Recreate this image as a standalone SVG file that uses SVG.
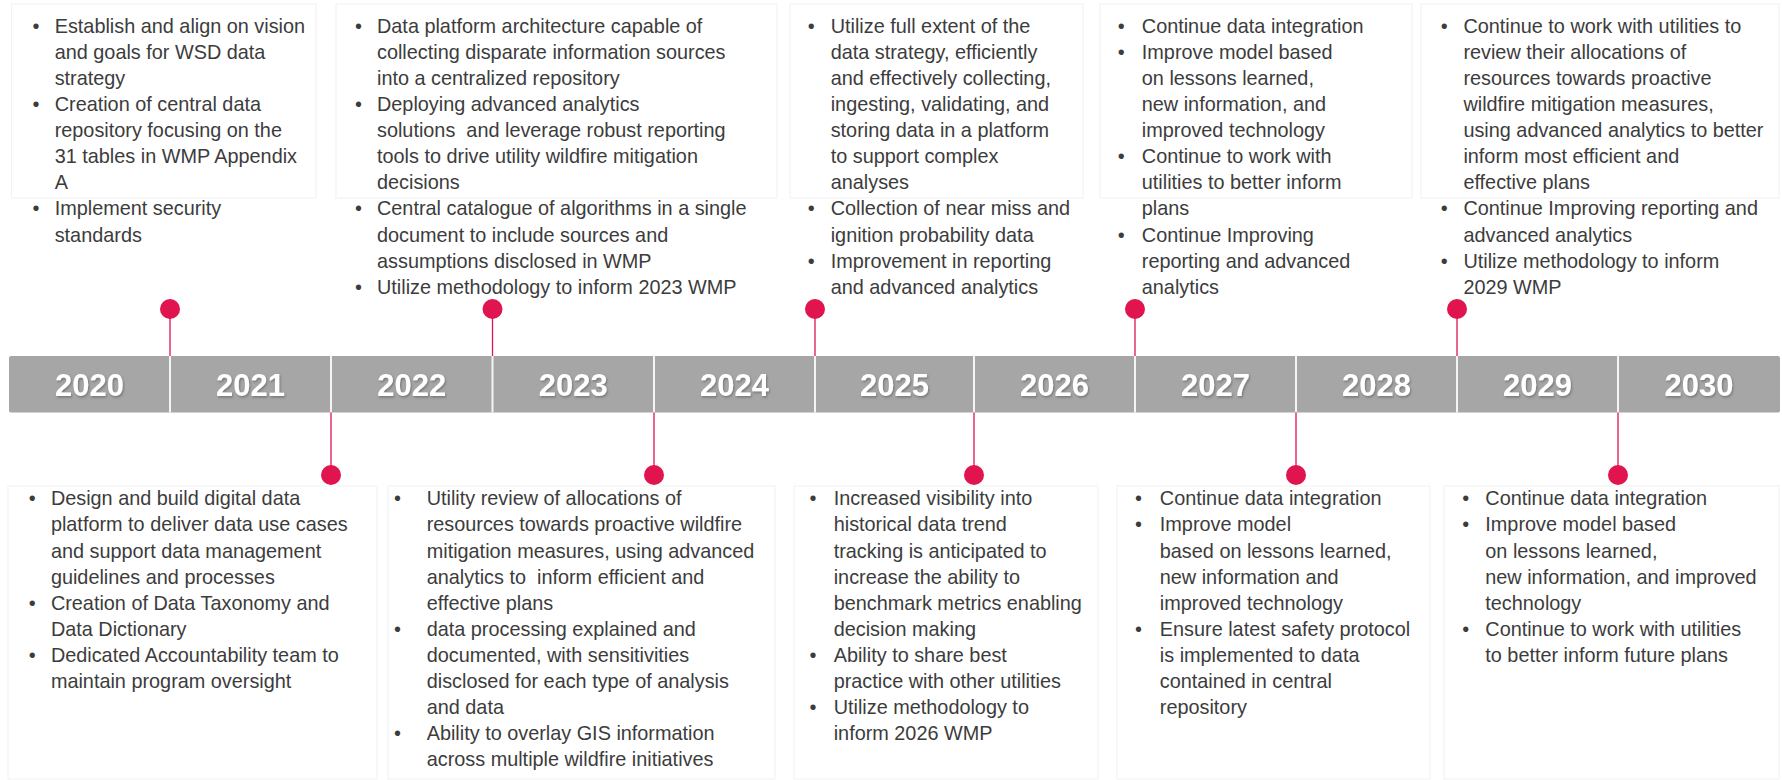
<svg xmlns="http://www.w3.org/2000/svg" width="1782" height="780" viewBox="0 0 1782 780">
<defs>
<filter id="sh" x="-20%" y="-20%" width="140%" height="140%"><feDropShadow dx="1" dy="1.5" stdDeviation="1" flood-color="#555" flood-opacity="0.6"/></filter>
<style>
.t{font-family:"Liberation Sans",Arial,sans-serif;font-size:19.85px;fill:#3c3c3c;white-space:pre}
.yr{font-family:"Liberation Sans",Arial,sans-serif;font-size:31px;font-weight:bold;fill:#fff;text-anchor:middle}
.box{fill:none;stroke:#f3f3f3;stroke-width:1.2}
.dot{fill:#e0144f}
.ln{stroke:#e0144f;stroke-width:1.3;fill:none}
.dv{stroke:#f4f4f4;stroke-width:2}
</style>
</defs>
<rect width="1782" height="780" fill="#ffffff"/>

<g id="timeline-bar">
<rect x="9" y="356" width="1771" height="56.5" rx="2" fill="#a6a6a6"/>
<g class="dv">
<line x1="170" y1="356" x2="170" y2="412.5"/>
<line x1="331" y1="356" x2="331" y2="412.5"/>
<line x1="492.5" y1="356" x2="492.5" y2="412.5"/>
<line x1="654" y1="356" x2="654" y2="412.5"/>
<line x1="815" y1="356" x2="815" y2="412.5"/>
<line x1="974" y1="356" x2="974" y2="412.5"/>
<line x1="1135" y1="356" x2="1135" y2="412.5"/>
<line x1="1296" y1="356" x2="1296" y2="412.5"/>
<line x1="1457" y1="356" x2="1457" y2="412.5"/>
<line x1="1618" y1="356" x2="1618" y2="412.5"/>
</g>
<g filter="url(#sh)">
<text class="yr" x="89.5" y="396">2020</text>
<text class="yr" x="250.5" y="396">2021</text>
<text class="yr" x="411.8" y="396">2022</text>
<text class="yr" x="573.3" y="396">2023</text>
<text class="yr" x="734.5" y="396">2024</text>
<text class="yr" x="894.5" y="396">2025</text>
<text class="yr" x="1054.5" y="396">2026</text>
<text class="yr" x="1215.5" y="396">2027</text>
<text class="yr" x="1376.5" y="396">2028</text>
<text class="yr" x="1537.5" y="396">2029</text>
<text class="yr" x="1699" y="396">2030</text>
</g>
</g>

<g id="connectors">
<line class="ln" x1="170" y1="309" x2="170" y2="356"/>
<line class="ln" x1="492.5" y1="309" x2="492.5" y2="356"/>
<line class="ln" x1="815" y1="309" x2="815" y2="356"/>
<line class="ln" x1="1135" y1="309" x2="1135" y2="356"/>
<line class="ln" x1="1457" y1="309" x2="1457" y2="356"/>
<line class="ln" x1="331" y1="412.5" x2="331" y2="475"/>
<line class="ln" x1="654" y1="412.5" x2="654" y2="475"/>
<line class="ln" x1="974" y1="412.5" x2="974" y2="475"/>
<line class="ln" x1="1296" y1="412.5" x2="1296" y2="475"/>
<line class="ln" x1="1618" y1="412.5" x2="1618" y2="475"/>
</g>

<g id="m2020">
<rect class="box" x="11.5" y="4" width="304.5" height="194"/>
<circle class="dot" cx="170" cy="309" r="10"/>
<text class="t">
<tspan x="32.5" y="32.7">•</tspan><tspan x="54.7" y="32.7">Establish and align on vision</tspan>
<tspan x="54.7" y="58.8">and goals for WSD data</tspan>
<tspan x="54.7" y="84.9">strategy</tspan>
<tspan x="32.5" y="111">•</tspan><tspan x="54.7" y="111">Creation of central data</tspan>
<tspan x="54.7" y="137.1">repository focusing on the</tspan>
<tspan x="54.7" y="163.2">31 tables in WMP Appendix</tspan>
<tspan x="54.7" y="189.3">A</tspan>
<tspan x="32.5" y="215.4">•</tspan><tspan x="54.7" y="215.4">Implement security</tspan>
<tspan x="54.7" y="241.5">standards</tspan>
</text>
</g>

<g id="m2021">
<rect class="box" x="8" y="486" width="369" height="293"/>
<circle class="dot" cx="331" cy="475" r="10"/>
<text class="t">
<tspan x="28.7" y="505.3">•</tspan><tspan x="50.9" y="505.3">Design and build digital data</tspan>
<tspan x="50.9" y="531.4">platform to deliver data use cases</tspan>
<tspan x="50.9" y="557.5">and support data management</tspan>
<tspan x="50.9" y="583.6">guidelines and processes</tspan>
<tspan x="28.7" y="609.7">•</tspan><tspan x="50.9" y="609.7">Creation of Data Taxonomy and</tspan>
<tspan x="50.9" y="635.8">Data Dictionary</tspan>
<tspan x="28.7" y="661.9">•</tspan><tspan x="50.9" y="661.9">Dedicated Accountability team to</tspan>
<tspan x="50.9" y="688">maintain program oversight</tspan>
</text>
</g>

<g id="m2022">
<rect class="box" x="336" y="4" width="441" height="194"/>
<circle class="dot" cx="492.5" cy="309" r="10"/>
<text class="t">
<tspan x="355" y="32.7">•</tspan><tspan x="377" y="32.7">Data platform architecture capable of</tspan>
<tspan x="377" y="58.8">collecting disparate information sources</tspan>
<tspan x="377" y="84.9">into a centralized repository</tspan>
<tspan x="355" y="111">•</tspan><tspan x="377" y="111">Deploying advanced analytics</tspan>
<tspan x="377" y="137.1">solutions  and leverage robust reporting</tspan>
<tspan x="377" y="163.2">tools to drive utility wildfire mitigation</tspan>
<tspan x="377" y="189.3">decisions</tspan>
<tspan x="355" y="215.4">•</tspan><tspan x="377" y="215.4">Central catalogue of algorithms in a single</tspan>
<tspan x="377" y="241.5">document to include sources and</tspan>
<tspan x="377" y="267.6">assumptions disclosed in WMP</tspan>
<tspan x="355" y="293.7">•</tspan><tspan x="377" y="293.7">Utilize methodology to inform 2023 WMP</tspan>
</text>
</g>

<g id="m2023">
<rect class="box" x="388" y="486" width="387" height="293"/>
<circle class="dot" cx="654" cy="475" r="10"/>
<text class="t">
<tspan x="394" y="505.3">•</tspan><tspan x="426.7" y="505.3">Utility review of allocations of</tspan>
<tspan x="426.7" y="531.4">resources towards proactive wildfire</tspan>
<tspan x="426.7" y="557.5">mitigation measures, using advanced</tspan>
<tspan x="426.7" y="583.6">analytics to  inform efficient and</tspan>
<tspan x="426.7" y="609.7">effective plans</tspan>
<tspan x="394" y="635.8">•</tspan><tspan x="426.7" y="635.8">data processing explained and</tspan>
<tspan x="426.7" y="661.9">documented, with sensitivities</tspan>
<tspan x="426.7" y="688">disclosed for each type of analysis</tspan>
<tspan x="426.7" y="714.1">and data</tspan>
<tspan x="394" y="740.2">•</tspan><tspan x="426.7" y="740.2">Ability to overlay GIS information</tspan>
<tspan x="426.7" y="766.3">across multiple wildfire initiatives</tspan>
</text>
</g>

<g id="m2024">
<rect class="box" x="790" y="4" width="293" height="194"/>
<circle class="dot" cx="815" cy="309" r="10"/>
<text class="t">
<tspan x="807.7" y="32.7">•</tspan><tspan x="830.7" y="32.7">Utilize full extent of the</tspan>
<tspan x="830.7" y="58.8">data strategy, efficiently</tspan>
<tspan x="830.7" y="84.9">and effectively collecting,</tspan>
<tspan x="830.7" y="111">ingesting, validating, and</tspan>
<tspan x="830.7" y="137.1">storing data in a platform</tspan>
<tspan x="830.7" y="163.2">to support complex</tspan>
<tspan x="830.7" y="189.3">analyses</tspan>
<tspan x="807.7" y="215.4">•</tspan><tspan x="830.7" y="215.4">Collection of near miss and</tspan>
<tspan x="830.7" y="241.5">ignition probability data</tspan>
<tspan x="807.7" y="267.6">•</tspan><tspan x="830.7" y="267.6">Improvement in reporting</tspan>
<tspan x="830.7" y="293.7">and advanced analytics</tspan>
</text>
</g>

<g id="m2025">
<rect class="box" x="794" y="486" width="304" height="293"/>
<circle class="dot" cx="974" cy="475" r="10"/>
<text class="t">
<tspan x="809.6" y="505.3">•</tspan><tspan x="833.7" y="505.3">Increased visibility into</tspan>
<tspan x="833.7" y="531.4">historical data trend</tspan>
<tspan x="833.7" y="557.5">tracking is anticipated to</tspan>
<tspan x="833.7" y="583.6">increase the ability to</tspan>
<tspan x="833.7" y="609.7">benchmark metrics enabling</tspan>
<tspan x="833.7" y="635.8">decision making</tspan>
<tspan x="809.6" y="661.9">•</tspan><tspan x="833.7" y="661.9">Ability to share best</tspan>
<tspan x="833.7" y="688">practice with other utilities</tspan>
<tspan x="809.6" y="714.1">•</tspan><tspan x="833.7" y="714.1">Utilize methodology to</tspan>
<tspan x="833.7" y="740.2">inform 2026 WMP</tspan>
</text>
</g>

<g id="m2026">
<rect class="box" x="1100" y="4" width="312" height="194"/>
<circle class="dot" cx="1135" cy="309" r="10"/>
<text class="t">
<tspan x="1117.7" y="32.7">•</tspan><tspan x="1141.8" y="32.7">Continue data integration</tspan>
<tspan x="1117.7" y="58.8">•</tspan><tspan x="1141.8" y="58.8">Improve model based</tspan>
<tspan x="1141.8" y="84.9">on lessons learned,</tspan>
<tspan x="1141.8" y="111">new information, and</tspan>
<tspan x="1141.8" y="137.1">improved technology</tspan>
<tspan x="1117.7" y="163.2">•</tspan><tspan x="1141.8" y="163.2">Continue to work with</tspan>
<tspan x="1141.8" y="189.3">utilities to better inform</tspan>
<tspan x="1141.8" y="215.4">plans</tspan>
<tspan x="1117.7" y="241.5">•</tspan><tspan x="1141.8" y="241.5">Continue Improving</tspan>
<tspan x="1141.8" y="267.6">reporting and advanced</tspan>
<tspan x="1141.8" y="293.7">analytics</tspan>
</text>
</g>

<g id="m2027">
<rect class="box" x="1117" y="486" width="313" height="293"/>
<circle class="dot" cx="1296" cy="475" r="10"/>
<text class="t">
<tspan x="1135" y="505.3">•</tspan><tspan x="1159.8" y="505.3">Continue data integration</tspan>
<tspan x="1135" y="531.4">•</tspan><tspan x="1159.8" y="531.4">Improve model</tspan>
<tspan x="1159.8" y="557.5">based on lessons learned,</tspan>
<tspan x="1159.8" y="583.6">new information and</tspan>
<tspan x="1159.8" y="609.7">improved technology</tspan>
<tspan x="1135" y="635.8">•</tspan><tspan x="1159.8" y="635.8">Ensure latest safety protocol</tspan>
<tspan x="1159.8" y="661.9">is implemented to data</tspan>
<tspan x="1159.8" y="688">contained in central</tspan>
<tspan x="1159.8" y="714.1">repository</tspan>
</text>
</g>

<g id="m2028">
<rect class="box" x="1421" y="4" width="358" height="194"/>
<circle class="dot" cx="1457" cy="309" r="10"/>
<text class="t">
<tspan x="1440.8" y="32.7">•</tspan><tspan x="1463.4" y="32.7">Continue to work with utilities to</tspan>
<tspan x="1463.4" y="58.8">review their allocations of</tspan>
<tspan x="1463.4" y="84.9">resources towards proactive</tspan>
<tspan x="1463.4" y="111">wildfire mitigation measures,</tspan>
<tspan x="1463.4" y="137.1">using advanced analytics to better</tspan>
<tspan x="1463.4" y="163.2">inform most efficient and</tspan>
<tspan x="1463.4" y="189.3">effective plans</tspan>
<tspan x="1440.8" y="215.4">•</tspan><tspan x="1463.4" y="215.4">Continue Improving reporting and</tspan>
<tspan x="1463.4" y="241.5">advanced analytics</tspan>
<tspan x="1440.8" y="267.6">•</tspan><tspan x="1463.4" y="267.6">Utilize methodology to inform</tspan>
<tspan x="1463.4" y="293.7">2029 WMP</tspan>
</text>
</g>

<g id="m2029">
<rect class="box" x="1444" y="486" width="335" height="293"/>
<circle class="dot" cx="1618" cy="475" r="10"/>
<text class="t">
<tspan x="1462.3" y="505.3">•</tspan><tspan x="1485.3" y="505.3">Continue data integration</tspan>
<tspan x="1462.3" y="531.4">•</tspan><tspan x="1485.3" y="531.4">Improve model based</tspan>
<tspan x="1485.3" y="557.5">on lessons learned,</tspan>
<tspan x="1485.3" y="583.6">new information, and improved</tspan>
<tspan x="1485.3" y="609.7">technology</tspan>
<tspan x="1462.3" y="635.8">•</tspan><tspan x="1485.3" y="635.8">Continue to work with utilities</tspan>
<tspan x="1485.3" y="661.9">to better inform future plans</tspan>
</text>
</g>
</svg>
